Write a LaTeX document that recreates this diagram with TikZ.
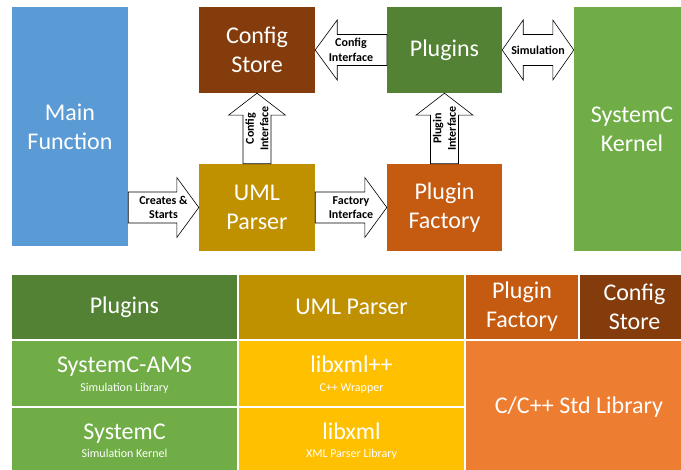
\documentclass[tikz,border=0pt]{standalone}
\usepackage{fontspec}
\setmainfont{Carlito}
\usetikzlibrary{calc}

\definecolor{mainblue}{HTML}{5B9BD5}
\definecolor{darkgreen}{HTML}{548235}
\definecolor{litegreen}{HTML}{70AD47}
\definecolor{gold}{HTML}{BF9000}
\definecolor{rust}{HTML}{C55A11}
\definecolor{brown}{HTML}{843C0C}
\definecolor{amber}{HTML}{FFC000}
\definecolor{orangeb}{HTML}{ED7D31}

\newcommand\bigf{\fontsize{24}{29}\selectfont}
\newcommand\subf{\fontsize{12}{14}\selectfont}
\newcommand\lblf{\fontsize{12}{14.5}\selectfont\bfseries}

% block-arrow geometry
\newcommand\arShaft{15.5}
\newcommand\arHeadW{30}
\newcommand\arHeadL{22}
\newcommand\arVShaft{14}
\newcommand\arVHeadW{28.5}

% horizontal block arrow: tail, tip, signed offset from tip to head base
\newcommand\hblock[3]{%
  \draw[blk] ($(#1)+(0,-\arShaft)$) -- ($(#2)+(#3,-\arShaft)$) -- ($(#2)+(#3,-\arHeadW)$)
    -- (#2) -- ($(#2)+(#3,\arHeadW)$) -- ($(#2)+(#3,\arShaft)$) -- ($(#1)+(0,\arShaft)$) -- cycle;}
% upward block arrow: tail (below), tip (above)
\newcommand\vblock[2]{%
  \draw[blk] ($(#1)+(-\arVShaft,0)$) -- ($(#2)+(-\arVShaft,\arHeadL)$) -- ($(#2)+(-\arVHeadW,\arHeadL)$)
    -- (#2) -- ($(#2)+(\arVHeadW,\arHeadL)$) -- ($(#2)+(\arVShaft,\arHeadL)$) -- ($(#1)+(\arVShaft,0)$) -- cycle;}
% double-headed horizontal block arrow: left tip, right tip
\newcommand\dblock[2]{%
  \draw[blk] (#1) -- ($(#1)+(21,-\arHeadW)$) -- ($(#1)+(21,-\arShaft)$) -- ($(#2)+(-21,-\arShaft)$)
    -- ($(#2)+(-21,-\arHeadW)$) -- (#2) -- ($(#2)+(-21,\arHeadW)$) -- ($(#2)+(-21,\arShaft)$)
    -- ($(#1)+(21,\arShaft)$) -- ($(#1)+(21,\arHeadW)$) -- cycle;}

\tikzset{
  box/.style={fill=#1, text=white, inner sep=0pt, align=center, font=\bigf},
  cell/.style={fill=#1, draw=white, line width=1.2pt, inner sep=0pt, text=white, align=center, font=\bigf},
  blk/.style={draw=black, fill=white, line width=0.6pt, line join=miter},
  lbl/.style={font=\lblf, align=center, inner sep=0pt, text=black},
  big/.style={font=\bigf, text=white, inner sep=0pt, anchor=base},
  small/.style={font=\subf, text=white, inner sep=0pt, anchor=base},
}

\begin{document}
\begin{tikzpicture}[x=1pt,y=-1pt]
\useasboundingbox (0,0) rectangle (681,470);
\clip (0,0) rectangle (681,470);

% ---- component diagram ----
\node[box=mainblue,   minimum width=116, minimum height=239] (main) at (70,126.5)  {Main\\Function};
\node[box=brown,      minimum width=116, minimum height=86]  (cfg)  at (257,50)    {Config\\Store};
\node[box=darkgreen,  minimum width=115, minimum height=86]  (plug) at (444.5,50)  {Plugins};
\node[box=gold,       minimum width=116, minimum height=87]  (uml)  at (257,207.5) {UML\\Parser};
\node[box=rust,       minimum width=115, minimum height=87]  (fac)  at (444.5,207.5) {Plugin\\Factory};
\node[box=litegreen,  minimum width=116, minimum height=244] (sysk) at (632,129)   {SystemC\\Kernel};

\coordinate (csT)  at (main.east |- uml.west);
\coordinate (simR) at (sysk.west |- plug.east);

\hblock{csT}{uml.west}{-22}
\hblock{uml.east}{fac.west}{-22}
\hblock{plug.west}{cfg.east}{22}
\dblock{plug.east}{simR}
\vblock{uml.north}{cfg.south}
\vblock{fac.north}{plug.south}

\node[lbl] (lcs)  at ($(csT)!0.5!(uml.west)$)       {Creates \&\\Starts};
\node[lbl] (lfi)  at ($(uml.east)!0.5!(fac.west)$)  {Factory\\Interface};
\node[lbl] (lci)  at ($(plug.west)!0.5!(cfg.east)$) {Config\\Interface};
\node[lbl] (lsim) at ($(plug.east)!0.5!(simR)$)     {Simulation};
\node[lbl, rotate=90] (lcv) at ($(uml.north)!0.5!(cfg.south)$)  {Config\\Interface};
\node[lbl, rotate=90] (lpv) at ($(fac.north)!0.5!(plug.south)$) {Plugin\\Interface};

% ---- layer stack ----
\node[cell=darkgreen, minimum width=227, minimum height=66]  (tplug) at (124.5,307) {Plugins};
\node[cell=gold,      minimum width=227, minimum height=66]  (tuml)  at (351.5,307) {UML Parser};
\node[cell=rust,      minimum width=114, minimum height=66]  (tfac)  at (522,307)   {Plugin\\Factory};
\node[cell=brown,     minimum width=111, minimum height=66]  (tcfg)  at (634.5,307) {Config\\Store};
\node[cell=litegreen, minimum width=227, minimum height=67]  (tams)  at (124.5,373.5) {};
\node[cell=amber,     minimum width=227, minimum height=67]  (txpp)  at (351.5,373.5) {};
\node[cell=litegreen, minimum width=227, minimum height=73]  (tsc)   at (124.5,443.5) {};
\node[cell=amber,     minimum width=227, minimum height=73]  (txml)  at (351.5,443.5) {};
\node[cell=orangeb,   minimum width=225, minimum height=140] (tstd)  at (577.5,410) {};

\node[big]   (ams)   at (124.5,373) {SystemC-AMS};
\node[small] (amss)  at (124.5,392) {Simulation Library};
\node[big]   (sc)    at (124.5,440) {SystemC};
\node[small] (scs)   at (124.5,458) {Simulation Kernel};
\node[big]   (xpp)   at (351.5,373) {libxml++};
\node[small] (xpps)  at (351.5,392) {C++ Wrapper};
\node[big]   (xml)   at (351.5,440) {libxml};
\node[small] (xmls)  at (351.5,458) {XML Parser Library};
\node[font=\bigf, text=white, inner sep=0pt] (std) at (579,407) {C/C++ Std Library};
\end{tikzpicture}
\end{document}
